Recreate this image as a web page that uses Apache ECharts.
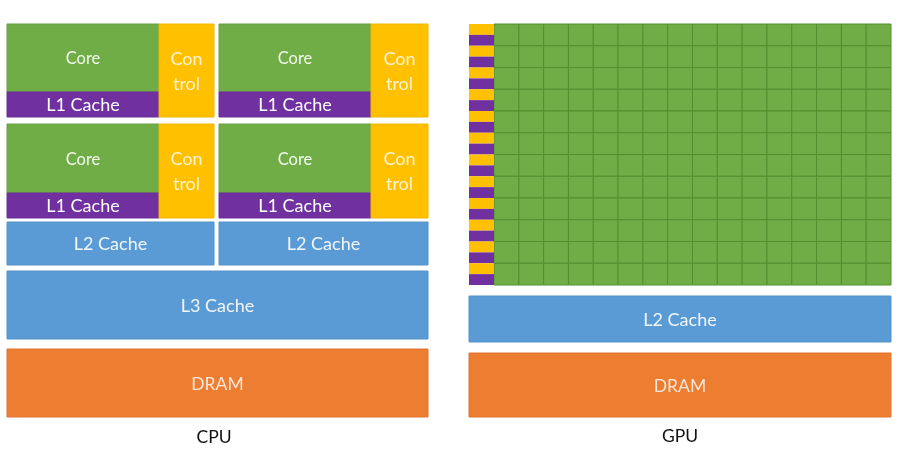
<!DOCTYPE html>
<html>
<head>
<meta charset="utf-8">
<script src="https://cdn.jsdelivr.net/npm/echarts@6/dist/echarts.min.js"></script>
<style>html,body{margin:0;padding:0;background:#fff}#c{width:901px;height:456px}</style>
</head>
<body>
<div id="c"></div>
<script>
// Diagram blocks: [x0, x1, y0, y1, kind, label] in diagram units
const cpuBlocks = [
  [7, 159, 24, 92, 'core', 'Core'],
  [7, 159, 92, 117, 'l1', 'L1 Cache'],
  [159, 214, 24, 117, 'ctrl', 'Con\ntrol'],
  [219, 371, 24, 92, 'core', 'Core'],
  [219, 371, 92, 117, 'l1', 'L1 Cache'],
  [371, 428, 24, 117, 'ctrl', 'Con\ntrol'],
  [7, 159, 124, 193, 'core', 'Core'],
  [7, 159, 193, 218, 'l1', 'L1 Cache'],
  [159, 214, 124, 218, 'ctrl', 'Con\ntrol'],
  [219, 371, 124, 193, 'core', 'Core'],
  [219, 371, 193, 218, 'l1', 'L1 Cache'],
  [371, 428, 124, 218, 'ctrl', 'Con\ntrol'],
  [7, 214, 222, 265, 'cache', 'L2 Cache'],
  [219, 428, 222, 265, 'cache', 'L2 Cache'],
  [7, 428, 271, 339, 'cache', 'L3 Cache'],
  [7, 428, 349, 417, 'dram', 'DRAM']
];
const gpuBlocks = [
  [469, 891, 296, 342, 'cache', 'L2 Cache'],
  [469, 891, 353, 417, 'dram', 'DRAM']
];
// GPU core grid extent and counts
const gpuGridExtent = [494, 891, 24, 285];
const gpuCols = 16;
const gpuRows = 12;
// left control / L1 stripes
const gpuStripeExtent = [469, 494, 24, 285];
const gpuStripeKinds = [];
for (let r = 0; r < gpuRows; r++) { gpuStripeKinds.push('ctrl', 'l1'); }
// captions: [x, y, text]
const captions = [
  [214, 437, 'CPU'],
  [680, 436, 'GPU']
];

const fills = { core: '#70AD47', l1: '#7030A0', ctrl: '#FFC000', cache: '#5B9BD5', dram: '#ED7D31' };
const strokes = { core: '#6A9F47', l1: '#6A2F99', ctrl: '#F2B705', cache: '#5592C9', dram: '#DE7530' };
const textFills = { core: '#F2F8EE', l1: '#FFFFFF', ctrl: '#FFF3CF', cache: '#F1F6FC', dram: '#FCE6D8' };
const fontSizes = { core: 16.5, l1: 18, ctrl: 18, cache: 18, dram: 17.5 };
const FONT = 'Lato, "Open Sans", sans-serif';

const allBlocks = cpuBlocks.concat(gpuBlocks);

const cellData = [];
for (let r = 0; r < gpuRows; r++) for (let c = 0; c < gpuCols; c++) cellData.push([c, r]);

function rectBetween(api, x0, x1, y0, y1) {
  const p0 = api.coord([x0, y0]);
  const p1 = api.coord([x1, y1]);
  return { x: Math.min(p0[0], p1[0]), y: Math.min(p0[1], p1[1]), width: Math.abs(p1[0] - p0[0]), height: Math.abs(p1[1] - p0[1]) };
}

const chart = echarts.init(document.getElementById('c'), null, { renderer: 'canvas' });
chart.setOption({
  animation: false,
  backgroundColor: '#ffffff',
  grid: { left: 0, right: 0, top: 0, bottom: 0 },
  xAxis: { type: 'value', min: 0, max: 901, show: false },
  yAxis: { type: 'value', min: 0, max: 456, inverse: true, show: false },
  series: [
    {
      type: 'custom',
      coordinateSystem: 'cartesian2d',
      data: allBlocks.map(b => [b[0], b[1], b[2], b[3]]),
      renderItem: function (params, api) {
        const b = allBlocks[params.dataIndex];
        const shape = rectBetween(api, b[0], b[1], b[2], b[3]);
        const kind = b[4];
        return {
          type: 'group',
          children: [
            { type: 'rect', shape: shape, style: { fill: fills[kind], stroke: strokes[kind], lineWidth: 1 } },
            { type: 'text', style: {
                text: b[5], x: shape.x + shape.width / 2, y: shape.y + shape.height / 2 + 1,
                fill: textFills[kind], fontSize: fontSizes[kind], fontFamily: FONT,
                align: 'center', verticalAlign: 'middle', lineHeight: 25 } }
          ]
        };
      }
    },
    {
      type: 'custom',
      coordinateSystem: 'cartesian2d',
      data: cellData,
      renderItem: function (params, api) {
        const c = api.value(0), r = api.value(1);
        const e = gpuGridExtent;
        const cw = (e[1] - e[0]) / gpuCols, rh = (e[3] - e[2]) / gpuRows;
        const shape = rectBetween(api, e[0] + c * cw, e[0] + (c + 1) * cw, e[2] + r * rh, e[2] + (r + 1) * rh);
        return { type: 'rect', shape: shape, style: { fill: '#70AD47', stroke: '#50902F', lineWidth: 1 } };
      }
    },
    {
      type: 'custom',
      coordinateSystem: 'cartesian2d',
      data: gpuStripeKinds.map((k, i) => [i]),
      renderItem: function (params, api) {
        const i = api.value(0);
        const e = gpuStripeExtent;
        const h = (e[3] - e[2]) / gpuStripeKinds.length;
        const shape = rectBetween(api, e[0], e[1], e[2] + i * h, e[2] + (i + 1) * h);
        return { type: 'rect', shape: shape, style: { fill: fills[gpuStripeKinds[i]] } };
      }
    },
    {
      type: 'custom',
      coordinateSystem: 'cartesian2d',
      data: captions.map(c => [c[0], c[1]]),
      renderItem: function (params, api) {
        const c = captions[params.dataIndex];
        const p = api.coord([c[0], c[1]]);
        return { type: 'text', style: { text: c[2], x: p[0], y: p[1], fill: '#111111', fontSize: 17.5, fontFamily: FONT, align: 'center', verticalAlign: 'middle' } };
      }
    }
  ]
});
</script>
</body>
</html>
